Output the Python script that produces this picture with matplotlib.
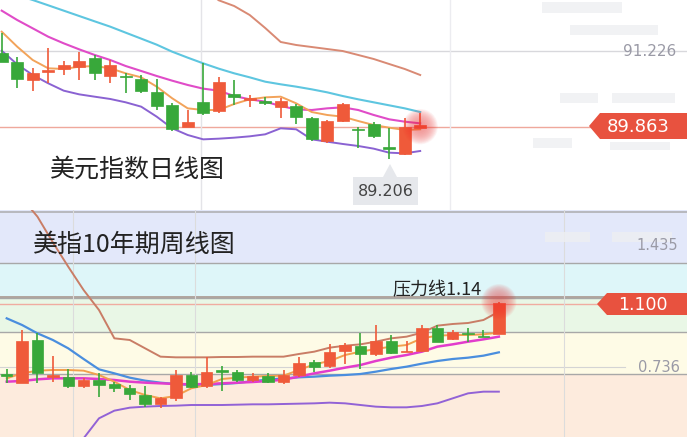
import numpy as np
import matplotlib
matplotlib.use("Agg")
import matplotlib.pyplot as plt
from matplotlib.patches import Rectangle, Polygon

plt.rcParams['font.family'] = ['Noto Sans CJK SC', 'DejaVu Sans']

nan = np.nan
# ---------------- Top panel: US dollar index daily ----------------
d_open = [91.191, 91.017, 90.700, 90.850, 90.898, 90.939, 91.089, 90.772, 90.772, 90.712,
          90.485, 90.252, 89.863, 90.300, 90.150, 90.455, 90.342, 90.330, 90.222, 90.234,
          90.013, 89.606, 89.971, 89.828, 89.911, 89.505, 89.373, 89.845]
d_close = [91.029, 90.718, 90.820, 90.874, 90.969, 91.041, 90.820, 90.969, 90.748, 90.503,
           90.240, 89.822, 89.941, 90.114, 90.670, 90.401, 90.372, 90.282, 90.324, 90.043,
           89.636, 89.971, 90.270, 89.804, 89.702, 89.469, 89.851, 89.893]
d_high = [91.537, 91.119, 90.910, 91.268, 91.041, 91.208, 91.149, 91.059, 90.820, 90.790,
          90.718, 90.282, 90.162, 90.999, 90.748, 90.700, 90.431, 90.401, 90.383, 90.264,
          90.043, 89.983, 90.282, 89.863, 89.953, 89.834, 90.013, 90.103]
d_low = [91.029, 90.551, 90.509, 90.641, 90.790, 90.700, 90.700, 90.652, 90.461, 90.461,
         90.162, 89.792, 89.863, 90.073, 90.103, 90.252, 90.222, 90.252, 90.025, 89.911,
         89.606, 89.576, 89.953, 89.487, 89.666, 89.278, 89.355, 89.834]
d_upper = [nan] * 12 + [92.55, 92.35, 92.13, 92.027, 91.866, 91.633, 91.382, 91.328, 91.292,
                        91.256, 91.220, 91.149, 91.077, 90.987, 90.898, 90.790]
d_cyan = [92.31, 92.22, 92.135, 92.04, 91.944, 91.848, 91.752, 91.657, 91.549, 91.442,
          91.334, 91.208, 91.101, 90.999, 90.904, 90.820, 90.748, 90.670, 90.623, 90.581,
          90.533, 90.479, 90.413, 90.354, 90.300, 90.246, 90.192, 90.126]
d_pink = [91.944, 91.776, 91.627, 91.477, 91.358, 91.250, 91.149, 91.059, 90.951, 90.862,
          90.772, 90.688, 90.611, 90.545, 90.509, 90.413, 90.354, 90.312, 90.234, 90.174,
          90.162, 90.192, 90.210, 90.162, 90.073, 89.995, 89.953, 89.923]
d_orange = [91.567, 91.298, 91.059, 90.910, 90.898, 90.939, 90.951, 90.910, 90.820, 90.748,
            90.581, 90.372, 90.192, 90.162, 90.162, 90.270, 90.354, 90.389, 90.401, 90.282,
            90.126, 90.073, 90.043, 89.965, 89.893, 89.845, 89.804, 89.816]
d_lower = [91.226, 90.981, 90.790, 90.641, 90.509, 90.443, 90.401, 90.360, 90.300, 90.222,
           90.043, 89.834, 89.714, 89.636, 89.648, 89.666, 89.690, 89.726, 89.834, 89.816,
           89.636, 89.594, 89.553, 89.517, 89.469, 89.397, 89.385, 89.427]
d_levels = [91.226, 89.863]
d_last = 89.863
d_min_label = "89.206"

# ---------------- Bottom panel: 10-year weekly ----------------
w_open = [0.6899, 0.6418, 0.8921, 0.6803, 0.6764, 0.6264, 0.6610, 0.6360, 0.6129, 0.5744,
          0.5224, 0.5551, 0.6899, 0.6264, 0.7188, 0.7091, 0.6610, 0.6841, 0.6514, 0.6899,
          0.7669, 0.7419, 0.8304, 0.8574, 0.8112, 0.8882, 0.8208, 0.8304, 0.9594, 0.8959,
          0.9344, 0.9171, 0.9267]
w_close = [0.6860, 0.8863, 0.6995, 0.6899, 0.6264, 0.6610, 0.6321, 0.6129, 0.5782, 0.5205,
           0.5551, 0.6899, 0.6225, 0.7091, 0.7091, 0.6610, 0.6860, 0.6514, 0.6899, 0.7611,
           0.7380, 0.8247, 0.8632, 0.8112, 0.8882, 0.8189, 0.8304, 0.9594, 0.8786, 0.9402,
           0.9248, 0.9094, 1.1038]
w_high = [0.7246, 0.9470, 0.9306, 0.7996, 0.7246, 0.6707, 0.7034, 0.6495, 0.6321, 0.6264,
          0.5648, 0.7188, 0.7091, 0.7958, 0.7419, 0.7207, 0.6995, 0.6995, 0.7188, 0.7919,
          0.7765, 0.8689, 0.8728, 0.9344, 0.9787, 0.9209, 0.8863, 0.9787, 0.9787, 0.9498,
          0.9633, 0.9498, 1.1135]
w_low = [0.6437, 0.6418, 0.6456, 0.6514, 0.6167, 0.6129, 0.5648, 0.5936, 0.5474, 0.5070,
         0.4974, 0.5397, 0.6167, 0.6167, 0.5994, 0.6514, 0.6514, 0.6418, 0.6360, 0.6803,
         0.7091, 0.7323, 0.7534, 0.7226, 0.7996, 0.8112, 0.8208, 0.8247, 0.8786, 0.8921,
         0.8824, 0.9094, 0.9267]
w_upper = [1.787, 1.710, 1.6044, 1.456, 1.3156, 1.1808, 1.0653, 0.9017, 0.8921, 0.8439,
           0.7958, 0.7919, 0.7919, 0.7919, 0.7939, 0.7939, 0.7958, 0.7958, 0.7958, 0.8112,
           0.8247, 0.8478, 0.8593, 0.8670, 0.8824, 0.9017, 0.9113, 0.9344, 0.9749, 0.9845,
           0.9903, 1.0076, 1.0557]
w_blue = [1.0172, 0.9787, 0.9306, 0.8921, 0.8439, 0.7823, 0.7226, 0.6995, 0.6745, 0.6572,
          0.6456, 0.6379, 0.6321, 0.6321, 0.6379, 0.6437, 0.6552, 0.6629, 0.6707, 0.6764,
          0.6803, 0.6860, 0.6899, 0.6957, 0.7091, 0.7246, 0.7380, 0.7554, 0.7708, 0.7823,
          0.7900, 0.8016, 0.8208]
w_pink = [0.6514, 0.6552, 0.6648, 0.6707, 0.6707, 0.6707, 0.6668, 0.6610, 0.6514, 0.6456,
          0.6418, 0.6379, 0.6360, 0.6379, 0.6418, 0.6456, 0.6495, 0.6552, 0.6629, 0.6803,
          0.6995, 0.7149, 0.7323, 0.7476, 0.7708, 0.7900, 0.8054, 0.8247, 0.8536, 0.8670,
          0.8824, 0.8959, 0.9113]
w_orange = [0.6707, 0.6995, 0.7149, 0.7188, 0.7188, 0.7149, 0.6899, 0.6514, 0.6033, 0.5744,
            0.5551, 0.5686, 0.6129, 0.6321, 0.6668, 0.6745, 0.6803, 0.6841, 0.6860, 0.7188,
            0.7515, 0.7708, 0.8054, 0.8247, 0.8401, 0.8536, 0.8632, 0.9017, 0.9171, 0.9209,
            0.9209, 0.9248, 0.9344]
w_lower = [nan, nan, nan, nan, 0.20, 0.3241, 0.4396, 0.4839, 0.5012, 0.5070,
           0.5109, 0.5128, 0.5166, 0.5166, 0.5166, 0.5185, 0.5205, 0.5205, 0.5224, 0.5243,
           0.5262, 0.5301, 0.5262, 0.5166, 0.5070, 0.5032, 0.5032, 0.5109, 0.5262, 0.5551,
           0.5840, 0.5936, 0.5936]
w_band_edges = [1.337, 1.1364, 0.938, 0.696]
w_band_colors = ['#e3e8fa', '#def6f9', '#e9f7e6', '#fefbe6', '#fdebdd']
w_resist = 1.14
w_last = 1.100
w_labels = [1.435, 0.736]

RED = '#ef5a3a'
GREEN = '#38a83a'

W, H = 687, 437
fig = plt.figure(figsize=(W / 100, H / 100), dpi=100)
fig.patch.set_facecolor('white')


def candles(ax, o, c, h, l, width):
    x = np.arange(len(o))
    o = np.array(o); c = np.array(c)
    cols = [RED if cc >= oo else GREEN for oo, cc in zip(o, c)]
    ax.vlines(x, l, h, colors=cols, linewidth=1.2, zorder=4)
    bottom = np.minimum(o, c)
    height = np.maximum(np.abs(c - o), (ax.get_ylim()[1] - ax.get_ylim()[0]) * 0.006)
    ax.bar(x, height, width=width, bottom=bottom, color=cols, edgecolor=cols,
           linewidth=0.5, zorder=5)


def glow(ax, x, y):
    for s in np.linspace(650, 30, 14):
        ax.scatter([x], [y], s=s, color='#f03030', alpha=0.045,
                   edgecolors='none', zorder=6)


def clean(ax):
    ax.set_axis_off()


# ---- top axes ----
top_h = 210 / H
ax1 = fig.add_axes([0, 1 - top_h, 1, top_h])
ax1.set_xlim((0 - 1.7) / 15.5, (W - 1.7) / 15.5)
ax1.set_ylim(92.135 - 210 * 0.017934, 92.135)
clean(ax1)
ax1.axhline(d_levels[0], color='#d8d8dc', linewidth=1.0, zorder=1)
ax1.axhline(d_levels[1], color='#efa89c', linewidth=1.0, zorder=1)
ax1.axvline((201 - 1.7) / 15.5, color='#e4e4e8', linewidth=1.0, zorder=1)
ax1.axvline((450 - 1.7) / 15.5, color='#ececf0', linewidth=1.0, zorder=1)
xt = np.arange(len(d_open))
ax1.plot(xt, d_upper, color='#d98a74', lw=1.4, zorder=3)
ax1.plot(xt, d_cyan, color='#5ec6e0', lw=1.5, zorder=3)
ax1.plot(xt, d_pink, color='#e04cc8', lw=1.5, zorder=3)
ax1.plot(xt, d_lower, color='#8a62d2', lw=1.4, zorder=3)
ax1.plot(xt, d_orange, color='#f2a35a', lw=1.4, zorder=3)
ax1.set_ylim(92.135 - 210 * 0.017934, 92.135)
candles(ax1, d_open, d_close, d_high, d_low, 0.78)
glow(ax1, len(d_open) - 1, d_last)

# ---- bottom axes ----
bot_h = 227 / H
ax2 = fig.add_axes([0, 0, 1, bot_h])
ax2.set_xlim((0 - 6.7) / 15.38, (W - 6.7) / 15.38)
ylo, yhi = 1.6718 - 0.005776 * (437 - 205), 1.6718 - 0.005776 * (210 - 205)
ax2.set_ylim(ylo, yhi)
clean(ax2)
edges = [yhi] + w_band_edges + [ylo]
for i, col in enumerate(w_band_colors):
    ax2.axhspan(edges[i + 1], edges[i], color=col, zorder=0, lw=0)
for e in w_band_edges:
    ax2.axhline(e, color='#a8a8a8', lw=1.0, zorder=1)
ax2.axhline(w_resist, color='#a89890', lw=1.2, zorder=1)
ax2.axhline(w_last, color='#f0aca0', lw=1.0, zorder=1)
ax2.axhline(w_labels[1], color='#d4d4d4', lw=0.8, zorder=1, xmax=625 / W)
ax2.axhline(yhi - 0.005776 * 1.5, color='#b0b0b4', lw=1.2, zorder=1)
for vx in [73, 195, 564]:
    ax2.axvline((vx - 6.7) / 15.38, color='#dcdcdc', lw=0.8, zorder=1)
xw = np.arange(len(w_open))
ax2.plot(xw, w_upper, color='#c97d66', lw=1.4, zorder=3)
ax2.plot(xw, w_blue, color='#4a8ede', lw=1.6, zorder=3)
ax2.plot(xw, w_lower, color='#9262d6', lw=1.4, zorder=3)
ax2.plot(xw, w_pink, color='#e23ccc', lw=1.8, zorder=3)
ax2.plot(xw, w_orange, color='#f2a04e', lw=1.4, zorder=3)
ax2.set_ylim(ylo, yhi)
candles(ax2, w_open, w_close, w_high, w_low, 0.74)
glow(ax2, len(w_open) - 1, w_high[-1])

# ---- overlay for annotations (pixel coordinates) ----
ov = fig.add_axes([0, 0, 1, 1], zorder=10)
ov.set_xlim(0, W); ov.set_ylim(H, 0); ov.set_axis_off()
ov.patch.set_alpha(0)

# faint ghost blocks
for (x0, y0, w, h) in [(542, 2, 80, 11), (570, 25, 88, 10), (560, 93, 38, 10), (612, 93, 63, 10),
                       (533, 138, 39, 10), (610, 142, 60, 8), (545, 232, 45, 10), (612, 232, 60, 10)]:
    ov.add_patch(Rectangle((x0, y0), w, h, color='#eeeff2', zorder=0, lw=0, alpha=0.8))

ov.text(50, 170, "美元指数日线图", fontsize=18, color='#222222', va='center', ha='left')
ov.text(33, 245, "美指10年期周线图", fontsize=18, color='#222222', va='center', ha='left')
ov.text(392, 290, "压力线1.14", fontsize=13, color='#222222', va='center', ha='left')

ov.text(676, 51, f"{d_levels[0]:.3f}", fontsize=11, color='#9a9aa6', va='center', ha='right',
        family='DejaVu Sans')
ov.text(678, 246, f"{w_labels[0]:.3f}", fontsize=10.5, color='#9a9aa6', va='center', ha='right',
        family='DejaVu Sans')
ov.text(680, 368, f"{w_labels[1]:.3f}", fontsize=10.5, color='#9a9aa6', va='center', ha='right',
        family='DejaVu Sans')

# price tags
ov.add_patch(Polygon([(589, 126), (600, 113), (687, 113), (687, 139), (600, 139)],
                     closed=True, color='#e8523f', zorder=5, lw=0))
ov.text(638, 126.5, f"{d_last:.3f}", fontsize=13, color='white', va='center', ha='center',
        family='DejaVu Sans', zorder=6)
ov.add_patch(Polygon([(597, 304), (607, 293), (687, 293), (687, 315), (607, 315)],
                     closed=True, color='#e8523f', zorder=5, lw=0))
ov.text(643, 304.5, f"{w_last:.3f}", fontsize=12.5, color='white', va='center', ha='center',
        family='DejaVu Sans', zorder=6)

# min label box
ov.add_patch(Polygon([(383, 177), (390, 164), (397, 177)], closed=True, color='#e6e8ec', lw=0))
ov.add_patch(Rectangle((353, 177), 65, 28, color='#e6e8ec', lw=0))
ov.text(386, 191, d_min_label, fontsize=11.5, color='#444444', va='center', ha='center',
        family='DejaVu Sans')

fig.savefig("out.png", dpi=100)
